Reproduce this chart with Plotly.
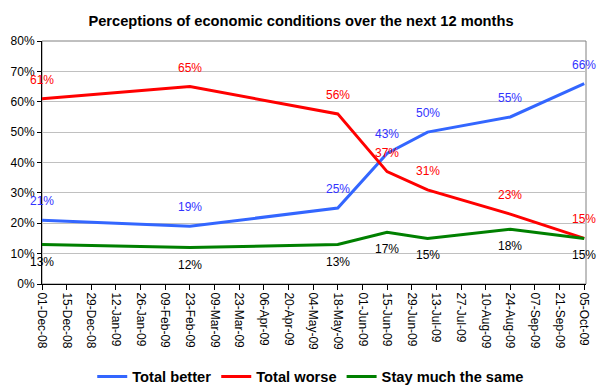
import plotly.graph_objects as go

dates = ["2008-12-01", "2009-02-23", "2009-05-18", "2009-06-15",
         "2009-07-08", "2009-08-24", "2009-10-05"]
total_better = [21, 19, 25, 43, 50, 55, 66]
total_worse = [61, 65, 56, 37, 31, 23, 15]
stay_same = [13, 12, 13, 17, 15, 18, 15]

series = [
    ("Total better", total_better, "#3366FF", "#3333FF", 19),
    ("Total worse", total_worse, "#FF0000", "#FF0000", 19),
    ("Stay much the same", stay_same, "#008000", "#000000", -17),
]

FONT = "Arial, Liberation Sans, sans-serif"

fig = go.Figure()
annotations = []
for name, vals, color, lcolor, shift in series:
    fig.add_trace(go.Scatter(
        x=dates, y=vals, mode="lines", name=name,
        line=dict(color=color, width=3),
        hoverinfo="skip",
    ))
    for d, v in zip(dates, vals):
        annotations.append(dict(
            x=d, y=v, xref="x", yref="y", text=f"{v}%",
            showarrow=False, yshift=shift, yanchor="middle",
            font=dict(family=FONT, size=12, color=lcolor),
        ))

fig.update_layout(
    width=602, height=391,
    margin=dict(l=42, r=16, t=41, b=106.5, autoexpand=False),
    paper_bgcolor="white", plot_bgcolor="white",
    title=dict(
        text="<b>Perceptions of economic conditions over the next 12 months</b>",
        x=0.5, xanchor="center", y=1 - 20.7 / 391, yanchor="middle",
        font=dict(family=FONT, size=14.67, color="black"),
    ),
    legend=dict(
        orientation="h", x=0.494, xanchor="center", y=-0.383, yanchor="middle",
        font=dict(family=FONT, size=14.67, color="black", weight="bold"),
        bgcolor="rgba(0,0,0,0)", itemwidth=30, tracegroupgap=0,
    ),
    annotations=annotations,
    shapes=[dict(type="rect", xref="paper", yref="paper", x0=0, x1=1, y0=0, y1=1,
                 line=dict(color="#808080", width=1), layer="below")],
    xaxis=dict(
        type="date", range=["2008-12-01", "2009-10-06"],
        tick0="2008-12-01", dtick=14 * 86400000, tickformat="%d-%b-%y",
        tickangle=90, ticks="outside", ticklen=5, tickcolor="black",
        showline=True, linecolor="black", linewidth=1, showgrid=False,
        zeroline=False,
        tickfont=dict(family=FONT, size=12, color="black"),
    ),
    yaxis=dict(
        range=[0, 80], dtick=10, ticksuffix="%",
        ticks="outside", ticklen=4, tickcolor="black",
        showline=True, linecolor="black", linewidth=1,
        showgrid=True, gridcolor="#C0C0C0", gridwidth=1, zeroline=False,
        tickfont=dict(family=FONT, size=12, color="black"),
    ),
)

fig.write_html(
    "out.html",
    config={"displayModeBar": False, "staticPlot": True},
    post_script="document.body.style.margin='0';document.body.style.padding='0';",
)
